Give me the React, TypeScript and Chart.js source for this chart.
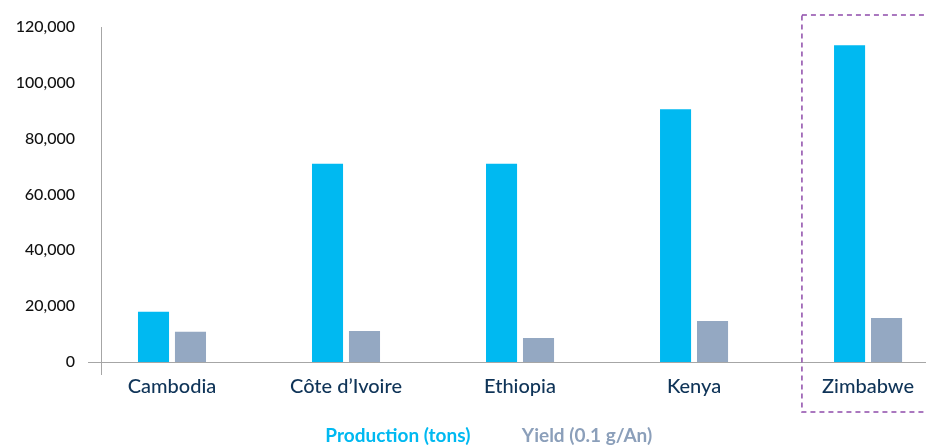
import React, { useEffect, useRef } from "react";
import { Chart, registerables } from "chart.js";

Chart.register(...registerables);

const categories = ["Cambodia", "Côte d\u2019Ivoire", "Ethiopia", "Kenya", "Zimbabwe"];
const production = [18000, 71000, 71000, 90500, 113500];
const yieldValues = [10800, 11100, 8600, 14700, 15800];
const yTickLabels = ["0", "20,000", "40,000", "60.000", "80,000", "100,000", "120,000"];
const seriesNames = ["Production (tons)", "Yield (0.1 g/An)"];
const seriesColors = ["#00B9F1", "#94A8C2"];
const legendColors = ["#00B9F1", "#8B9FBA"];

const FONT = "Lato, 'Open Sans', sans-serif";

const framePlugin = {
  id: "frame",
  afterDatasetsDraw(chart: any) {
    const ctx = chart.ctx;
    const { left, right, top, bottom } = chart.chartArea;
    const x = chart.scales.x;
    const y = chart.scales.y;
    const y0 = y.getPixelForValue(0);
    ctx.save();
    ctx.strokeStyle = "#A6A6A6";
    ctx.lineWidth = 1;
    ctx.beginPath();
    ctx.moveTo(left - 13, Math.round(y0) + 0.5);
    ctx.lineTo(right, Math.round(y0) + 0.5);
    ctx.moveTo(Math.round(left) + 0.5, top);
    ctx.lineTo(Math.round(left) + 0.5, y0 + 13);
    ctx.stroke();
    const last = categories.length - 1;
    const xc = x.getPixelForValue(last);
    const w = x.getPixelForValue(1) - x.getPixelForValue(0);
    ctx.strokeStyle = "#8E4BAA";
    ctx.lineWidth = 1.5;
    ctx.setLineDash([5, 4]);
    ctx.strokeRect(xc - 0.38 * w, top - 12, 0.76 * w, bottom - top + 62);
    ctx.restore();
  },
};

export default function App() {
  const ref = useRef<HTMLCanvasElement>(null);
  useEffect(() => {
    document.body.style.margin = "0";
    const chart = new Chart(ref.current!, {
      type: "bar",
      data: {
        datasets: [
          {
            label: seriesNames[0],
            data: production.map((v, i) => ({ x: i, y: v })),
            backgroundColor: seriesColors[0],
            categoryPercentage: 0.425,
            barPercentage: 0.84,
          },
          {
            label: seriesNames[1],
            data: yieldValues.map((v, i) => ({ x: i, y: v })),
            backgroundColor: seriesColors[1],
            categoryPercentage: 0.425,
            barPercentage: 0.84,
          },
        ],
      },
      options: {
        responsive: false,
        animation: false,
        layout: { padding: { top: 27, left: 0, right: 0, bottom: -10 } },
        scales: {
          x: {
            type: "linear",
            offset: false,
            min: -0.408,
            max: 4.333,
            grid: { display: false, drawTicks: false, offset: false },
            border: { display: false },
            afterBuildTicks: (scale: any) => {
              scale.ticks = categories.map((_, i) => ({ value: i }));
            },
            afterFit: (scale: any) => {
              scale.height = 64;
              scale.paddingLeft = 0;
              scale.paddingRight = 0;
            },
            ticks: {
              autoSkip: false,
              maxRotation: 0,
              padding: 13,
              color: "#0F3458",
              font: { family: FONT, size: 20, weight: 500 },
              callback: (v: any) => categories[v] ?? "",
            },
          },
          y: {
            min: 0,
            max: 120000,
            grid: { display: false, drawTicks: false },
            border: { display: false },
            afterFit: (scale: any) => {
              scale.width = 101;
              scale.paddingTop = 0;
              scale.paddingBottom = 0;
            },
            ticks: {
              stepSize: 20000,
              padding: 26,
              color: "#111111",
              font: { family: FONT, size: 16, weight: 500 },
              callback: (_v: any, i: number) => yTickLabels[i],
            },
          },
        },
        plugins: {
          tooltip: { enabled: false },
          legend: {
            position: "bottom",
            labels: {
              padding: 0,
              boxWidth: 42,
              boxHeight: 0,
              font: { family: FONT, size: 19, weight: "bold" },
              generateLabels: (chart: any) =>
                chart.data.datasets.map((d: any, i: number) => ({
                  text: d.label,
                  fontColor: legendColors[i],
                  fillStyle: "rgba(0,0,0,0)",
                  strokeStyle: "rgba(0,0,0,0)",
                  lineWidth: 0,
                  hidden: false,
                  datasetIndex: i,
                })),
            },
          },
        },
      },
      plugins: [framePlugin],
    } as any);
    return () => chart.destroy();
  }, []);
  return (
    <div style={{ width: 926, height: 445 }}>
      <canvas ref={ref} width={926} height={445} />
    </div>
  );
}
